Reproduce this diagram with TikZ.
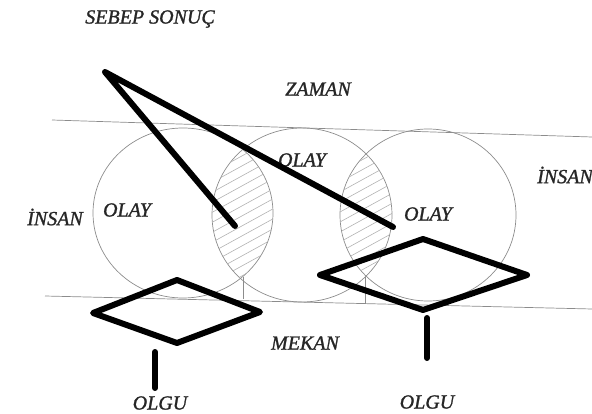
\documentclass[tikz,border=0pt]{standalone}
\usepackage{fontspec}
\setmainfont{Liberation Serif}
\newfontfamily\lblfont[FakeBold=1.2]{Liberation Serif}
\usetikzlibrary{calc}

\begin{document}
\begin{tikzpicture}[x=1pt,y=-1pt,
   lbl/.style={font=\lblfont\itshape\fontsize{20}{22}\selectfont,text=black!85,inner sep=0pt},
   fine/.style={draw=black!45,line width=0.7pt},
   hatch/.style={draw=black!30,line width=0.6pt},
   heavy/.style={line width=6pt,line join=round,line cap=round}]
  \useasboundingbox (0,0) rectangle (592,414);
  \coordinate (c1) at (183,213);
  \coordinate (c2) at (302,215);
  \coordinate (c3) at (428,215);
  \draw[fine] (52,120) -- (592,137);
  \draw[fine] (45,296) -- (592,309);
  \draw[fine] (c1) ellipse[x radius=90,y radius=85];
  \draw[fine] (c2) ellipse[x radius=90,y radius=87];
  \draw[fine] (c3) ellipse[x radius=88,y radius=86];
  \draw[fine] (243,277) -- (243,299);
  \draw[fine] (365,277) -- (365,304);
  \begin{scope}
    \clip (c1) ellipse[x radius=90,y radius=85];
    \clip (c2) ellipse[x radius=90,y radius=87];
    \foreach \k in {0,...,34}
      \draw[hatch] (180,110+10*\k) -- ++(260,-143);
  \end{scope}
  \begin{scope}
    \clip (c2) ellipse[x radius=90,y radius=87];
    \clip (c3) ellipse[x radius=88,y radius=86];
    \foreach \k in {0,...,34}
      \draw[hatch] (180,110+10*\k) -- ++(260,-143);
  \end{scope}
  \node[lbl] (sebep) at (150,19) {SEBEP SONUÇ};
  \node[lbl] (zaman) at (318,89) {ZAMAN};
  \node[lbl] (olay2) at (302,160) {OLAY};
  \node[lbl] (insan1) at (55,217) {İNSAN};
  \node[lbl] (olay1) at (127,210) {OLAY};
  \node[lbl] (olay3) at (428,214) {OLAY};
  \node[lbl,anchor=west] (insan2) at (537,175) {İNSAN};
  \node[lbl] (mekan) at (305,343) {MEKAN};
  \node[lbl] (olgu1) at (160,403) {OLGU};
  \node[lbl] (olgu2) at (427,402) {OLGU};
  \coordinate (apex) at (105,72);
  \coordinate (t1) at (235,226);
  \coordinate (t2) at (393,227);
  \draw[heavy] (t1) -- (apex) -- (t2);
  \draw[heavy] (93,313) -- (177,280) -- (260,312) -- (177,343) -- cycle;
  \draw[heavy] (320,275) -- (423,239) -- (527,275) -- (423,310) -- cycle;
  \coordinate (s1) at (155,352);
  \coordinate (s2) at (427,318);
  \draw[heavy] (s1) -- (s1 |- 0,388);
  \draw[heavy] (s2) -- (s2 |- 0,358);
\end{tikzpicture}
\end{document}
